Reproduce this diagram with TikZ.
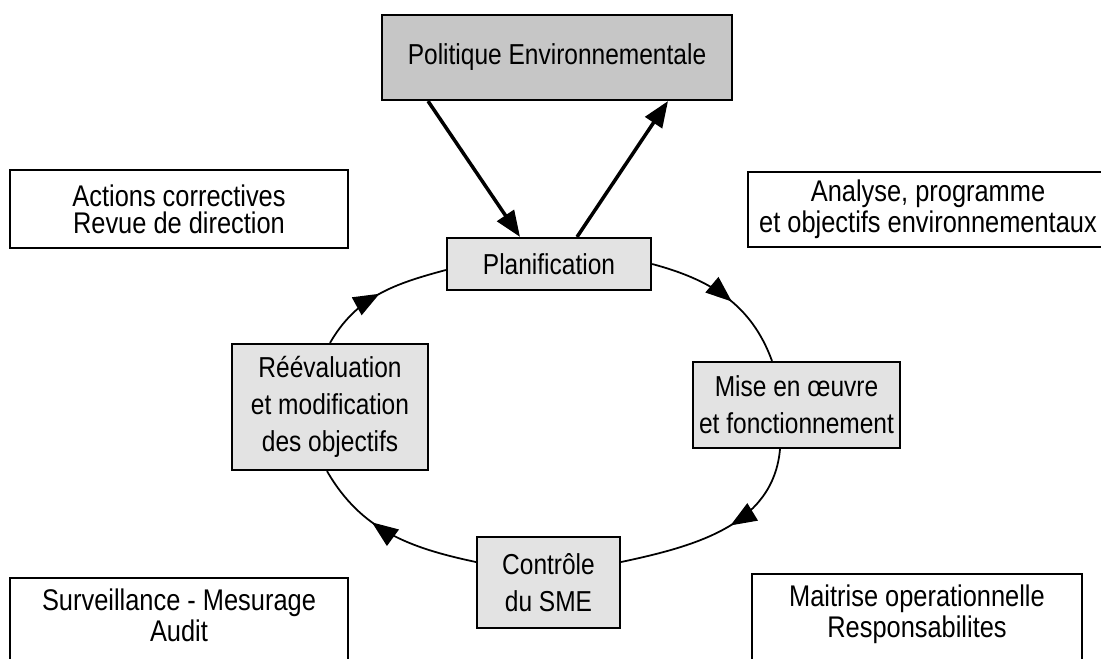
\documentclass[tikz,border=0pt]{standalone}
\usepackage{fontspec}
\setmainfont[FakeStretch=0.85]{Liberation Sans}
\usetikzlibrary{arrows.meta,decorations.markings}

\tikzset{
  outbox/.style={draw, fill=white, line width=0.6pt, align=center, inner sep=0pt,
    font=\fontsize{8.5}{7.6}\selectfont},
  inbox/.style={draw, fill=gray!22, line width=0.6pt, align=center, inner sep=0pt,
    font=\fontsize{8.2}{10.5}\selectfont},
  polbox/.style={inbox, fill=gray!45, font=\fontsize{8.2}{10}\selectfont},
  cyc/.style={line width=0.5pt, postaction={decorate}, decoration={markings,
    mark=at position #1 with {\arrow{Triangle[length=0.26cm,width=0.2cm]}}}},
  polarrow/.style={line width=1pt, -{Triangle[length=0.26cm,width=0.2cm]}}
}

\begin{document}
\begin{tikzpicture}[x=0.01cm,y=-0.01cm]
\useasboundingbox (0,0) rectangle (1101,658);

\node[polbox, minimum width=3.50cm, minimum height=0.85cm] (pol) at (557,57.5) {Politique Environnementale};

\node[outbox, minimum width=3.38cm, minimum height=0.78cm] (act) at (179,209) {Actions correctives\\Revue de direction};
\node[outbox, minimum width=3.60cm, minimum height=0.75cm] (ana) at (928,209.5) {Analyse, programme\\et objectifs environnementaux};

\node[inbox, minimum width=2.04cm, minimum height=0.52cm] (pla) at (549,264) {Planification};
\node[inbox, minimum width=1.96cm, minimum height=1.26cm] (ree) at (330,407) {Réévaluation\\et modification\\des objectifs};
\node[inbox, minimum width=2.07cm, minimum height=0.86cm] (mis) at (796.5,405) {Mise en œuvre\\et fonctionnement};
\node[inbox, minimum width=1.43cm, minimum height=0.91cm] (con) at (548.5,582.5) {Contrôle\\du SME};

\node[outbox, anchor=north, minimum width=3.38cm, inner ysep=3pt, text depth=1cm] (sur) at (179,577) {Surveillance - Mesurage\\Audit};
\node[outbox, anchor=north, minimum width=3.30cm, inner ysep=3pt, text depth=1cm] (mai) at (917,573) {Maitrise operationnelle\\Responsabilites};

\draw[polarrow] (428,0 |- pol.south) -- (520,0 |- pla.north);
\draw[polarrow] (577,0 |- pla.north) -- (668,0 |- pol.south);

\draw[cyc=0.55] (pla.east) to[out=-15, in=110] (772,0 |- mis.north);
\draw[cyc=0.45] (780,0 |- mis.south) to[out=-95, in=12] (con.east |- 0,562);
\draw[cyc=0.62] (con.west |- 0,562) to[out=168, in=-60] (327,0 |- ree.south);
\draw[cyc=0.5] (330,0 |- ree.north) to[out=60, in=195] (pla.west |- 0,270);
\end{tikzpicture}
\end{document}
